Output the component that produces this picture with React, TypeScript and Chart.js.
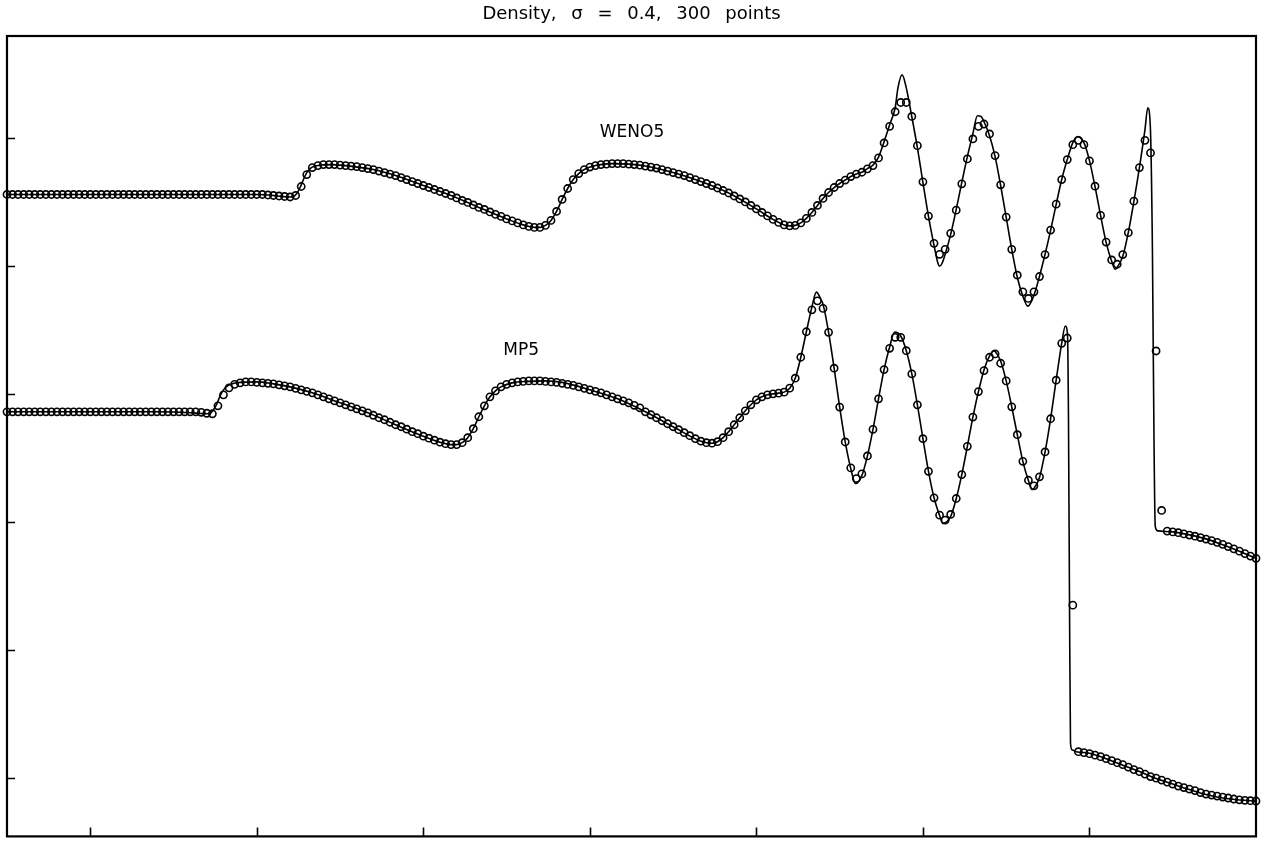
import React, { useEffect, useRef } from "react";
import { Chart, registerables } from "chart.js";

Chart.register(...registerables);

// ---------- text ----------
const TITLE = "Density, \u03c3 = 0.4, 300 points";
const SERIES_NAMES = ["WENO5", "MP5"];

// ---------- axes ----------
const X_RANGE = [-4.5, 3.0];
const Y_RANGE = [-0.01, 8.02];
const X_TICKS = [-4, -3, -2, -1, 0, 1, 2];
const Y_TICKS = [0.575, 1.86, 3.145, 4.43, 5.715, 7.0];

// grid of the computed points (300 points on [-5,5], shown part starts at -4.5)
const GRID_X0 = -4.5;
const GRID_DX = 1 / 30;

// ---------- WENO5 computed points ----------
const wenoRho = [
  6.43, 6.43, 6.43, 6.43, 6.43, 6.43, 6.43, 6.43, 6.43, 6.43,
  6.43, 6.43, 6.43, 6.43, 6.43, 6.43, 6.43, 6.43, 6.43, 6.43,
  6.43, 6.43, 6.43, 6.43, 6.43, 6.43, 6.43, 6.43, 6.43, 6.43,
  6.43, 6.43, 6.43, 6.43, 6.43, 6.43, 6.43, 6.43, 6.43, 6.43,
  6.43, 6.43, 6.43, 6.43, 6.43, 6.43, 6.43, 6.425, 6.42, 6.415,
  6.41, 6.405, 6.42, 6.51, 6.63, 6.70, 6.72, 6.73, 6.73, 6.73,
  6.725, 6.72, 6.715, 6.71, 6.70, 6.69, 6.68, 6.665, 6.65, 6.635,
  6.62, 6.60, 6.58, 6.56, 6.54, 6.52, 6.50, 6.48, 6.46, 6.44,
  6.42, 6.395, 6.37, 6.35, 6.325, 6.30, 6.28, 6.255, 6.23, 6.21,
  6.185, 6.165, 6.145, 6.125, 6.11, 6.10, 6.10, 6.12, 6.17, 6.26,
  6.38, 6.49, 6.58, 6.64, 6.68, 6.705, 6.72, 6.73, 6.735, 6.74,
  6.74, 6.74, 6.735, 6.73, 6.725, 6.715, 6.705, 6.695, 6.68, 6.665,
  6.65, 6.635, 6.62, 6.60, 6.58, 6.56, 6.54, 6.52, 6.495, 6.47,
  6.445, 6.415, 6.385, 6.355, 6.32, 6.285, 6.25, 6.215, 6.18, 6.15,
  6.125, 6.115, 6.12, 6.145, 6.19, 6.25, 6.32, 6.39, 6.45, 6.50,
  6.54, 6.575, 6.61, 6.635, 6.653, 6.687, 6.72, 6.797, 6.947, 7.113,
  7.26, 7.353, 7.353, 7.213, 6.92, 6.557, 6.213, 5.94, 5.83, 5.88,
  6.04, 6.273, 6.537, 6.787, 6.987, 7.113, 7.137, 7.037, 6.82, 6.527,
  6.203, 5.88, 5.62, 5.453, 5.387, 5.453, 5.607, 5.827, 6.073, 6.333,
  6.58, 6.78, 6.93, 6.973, 6.93, 6.767, 6.513, 6.22, 5.953, 5.773,
  5.73, 5.827, 6.047, 6.363, 6.70, 6.973, 6.847, 4.86, 3.26, 3.053,
  3.045, 3.037, 3.025, 3.013, 3.002, 2.988, 2.973, 2.957, 2.94, 2.92,
  2.898, 2.875, 2.852, 2.827, 2.802, 2.78,
];

// ---------- MP5 computed points ----------
const mp5Rho = [
  4.25, 4.25, 4.25, 4.25, 4.25, 4.25, 4.25, 4.25, 4.25, 4.25,
  4.25, 4.25, 4.25, 4.25, 4.25, 4.25, 4.25, 4.25, 4.25, 4.25,
  4.25, 4.25, 4.25, 4.25, 4.25, 4.25, 4.25, 4.25, 4.25, 4.25,
  4.25, 4.25, 4.25, 4.25, 4.25, 4.245, 4.235, 4.23, 4.31, 4.42,
  4.49, 4.525, 4.54, 4.55, 4.55, 4.545, 4.54, 4.535, 4.53, 4.52,
  4.51, 4.50, 4.485, 4.47, 4.455, 4.44, 4.42, 4.40, 4.38, 4.36,
  4.34, 4.32, 4.30, 4.28, 4.26, 4.24, 4.215, 4.19, 4.17, 4.145,
  4.12, 4.10, 4.075, 4.05, 4.03, 4.005, 3.985, 3.965, 3.945, 3.93,
  3.92, 3.92, 3.94, 3.99, 4.08, 4.20, 4.31, 4.40, 4.46, 4.50,
  4.525, 4.54, 4.55, 4.555, 4.56, 4.56, 4.56, 4.555, 4.55, 4.545,
  4.535, 4.525, 4.515, 4.50, 4.485, 4.47, 4.455, 4.44, 4.42, 4.40,
  4.38, 4.36, 4.34, 4.315, 4.29, 4.25, 4.22, 4.19, 4.16, 4.13,
  4.10, 4.07, 4.04, 4.01, 3.98, 3.955, 3.94, 3.935, 3.95, 3.99,
  4.05, 4.12, 4.19, 4.26, 4.32, 4.37, 4.40, 4.42, 4.43, 4.437,
  4.447, 4.487, 4.587, 4.797, 5.053, 5.273, 5.363, 5.287, 5.047, 4.687,
  4.297, 3.947, 3.687, 3.58, 3.627, 3.807, 4.073, 4.38, 4.673, 4.887,
  4.997, 4.997, 4.863, 4.63, 4.32, 3.98, 3.653, 3.387, 3.213, 3.163,
  3.22, 3.38, 3.62, 3.903, 4.197, 4.453, 4.663, 4.797, 4.83, 4.737,
  4.56, 4.30, 4.02, 3.753, 3.563, 3.507, 3.597, 3.847, 4.18, 4.567,
  4.937, 4.99, 2.31, 0.84, 0.83, 0.82, 0.805, 0.79, 0.77, 0.75,
  0.73, 0.71, 0.685, 0.66, 0.64, 0.615, 0.59, 0.575, 0.555, 0.535,
  0.515, 0.495, 0.48, 0.465, 0.45, 0.43, 0.415, 0.405, 0.395, 0.385,
  0.375, 0.365, 0.357, 0.352, 0.348, 0.345,
];

// ---------- reference solution lines ----------
const wenoLineX = [
  -4.5, -3.0, -2.9, -2.85, -2.8, -2.78, -2.76, -2.74, -2.72, -2.7,
  -2.68, -2.65, -2.6, -2.55, -2.5, -2.3, -2.1667, -2.0, -1.8333, -1.6667,
  -1.5, -1.4, -1.3333, -1.3, -1.2667, -1.2333, -1.2, -1.1667, -1.1333, -1.1,
  -1.0667, -1.0333, -0.9667, -0.8667, -0.7667, -0.6667, -0.5, -0.3333, -0.1667, 0.0,
  0.1, 0.1667, 0.2, 0.2333, 0.2667, 0.3, 0.3333, 0.3667, 0.4, 0.4333,
  0.4667, 0.5, 0.5333, 0.5667, 0.6, 0.6333, 0.6667, 0.7, 0.7333, 0.7667,
  0.8, 0.8333, 0.85, 0.875, 0.9, 0.9333, 0.9667, 1.0, 1.0333, 1.0667,
  1.09, 1.1, 1.115, 1.1333, 1.1667, 1.2, 1.2333, 1.2667, 1.3, 1.327,
  1.35, 1.3667, 1.4, 1.4333, 1.4667, 1.5, 1.5333, 1.5667, 1.6, 1.63,
  1.6667, 1.7, 1.7333, 1.7667, 1.8, 1.8333, 1.8667, 1.9, 1.93, 1.9667,
  2.0, 2.0333, 2.0667, 2.1, 2.1333, 2.155, 2.1667, 2.2, 2.2333, 2.2667,
  2.3, 2.3333, 2.35, 2.365, 2.378, 2.388, 2.395, 2.41, 2.5, 2.6,
  2.7, 2.8, 2.9, 3.0,
];
const wenoLineRho = [
  6.43, 6.43, 6.42, 6.41, 6.405, 6.41, 6.44, 6.50, 6.58, 6.65,
  6.69, 6.715, 6.727, 6.73, 6.725, 6.68, 6.62, 6.52, 6.42, 6.30,
  6.185, 6.125, 6.10, 6.10, 6.12, 6.17, 6.26, 6.38, 6.49, 6.58,
  6.64, 6.68, 6.72, 6.74, 6.735, 6.715, 6.65, 6.56, 6.445, 6.285,
  6.18, 6.125, 6.115, 6.12, 6.145, 6.19, 6.25, 6.32, 6.39, 6.45,
  6.50, 6.54, 6.575, 6.61, 6.635, 6.653, 6.69, 6.725, 6.805, 6.96,
  7.13, 7.30, 7.50, 7.63, 7.50, 7.21, 6.90, 6.55, 6.21, 5.92,
  5.74, 5.71, 5.74, 5.83, 6.03, 6.28, 6.55, 6.81, 7.04, 7.22,
  7.21, 7.16, 7.02, 6.81, 6.52, 6.20, 5.88, 5.60, 5.41, 5.31,
  5.42, 5.61, 5.83, 6.07, 6.33, 6.58, 6.78, 6.95, 7.01, 6.95,
  6.77, 6.51, 6.22, 5.95, 5.76, 5.68, 5.70, 5.81, 6.05, 6.36,
  6.70, 7.08, 7.30, 7.13, 5.88, 3.88, 3.10, 3.055, 3.045, 3.015,
  2.975, 2.915, 2.85, 2.78,
];

const mp5LineX = [
  -4.5, -3.6, -3.4, -3.35, -3.3, -3.28, -3.26, -3.24, -3.22, -3.2,
  -3.18, -3.15, -3.1, -3.0, -2.9, -2.8, -2.6667, -2.5, -2.3333, -2.1667,
  -2.0, -1.9, -1.8333, -1.8, -1.7667, -1.7333, -1.7, -1.6667, -1.6333, -1.6,
  -1.5667, -1.5333, -1.4667, -1.3667, -1.2667, -1.1667, -1.0, -0.8333, -0.6667, -0.5,
  -0.3333, -0.2667, -0.2333, -0.2, -0.1667, -0.1333, -0.1, -0.0667, -0.0333, 0.0,
  0.0333, 0.0667, 0.1, 0.1333, 0.1667, 0.2, 0.2333, 0.2667, 0.3, 0.3333,
  0.36, 0.3867, 0.4, 0.4333, 0.4667, 0.5, 0.5333, 0.5667, 0.595, 0.6333,
  0.6667, 0.7, 0.7333, 0.7667, 0.8, 0.83, 0.8667, 0.9, 0.9333, 0.9667,
  1.0, 1.0333, 1.0667, 1.1, 1.12, 1.1667, 1.2, 1.2333, 1.2667, 1.3,
  1.3333, 1.3667, 1.4, 1.425, 1.4333, 1.4667, 1.5, 1.5333, 1.5667, 1.6,
  1.6333, 1.655, 1.6667, 1.7, 1.7333, 1.7667, 1.8, 1.8333, 1.855, 1.868,
  1.874, 1.88, 1.886, 1.895, 1.92, 2.0, 2.1, 2.2, 2.3, 2.4,
  2.5, 2.6, 2.7, 2.8, 2.9, 3.0,
];
const mp5LineRho = [
  4.25, 4.25, 4.24, 4.235, 4.23, 4.235, 4.27, 4.33, 4.41, 4.47,
  4.505, 4.53, 4.545, 4.55, 4.53, 4.50, 4.44, 4.34, 4.24, 4.12,
  4.005, 3.945, 3.92, 3.92, 3.94, 3.99, 4.08, 4.20, 4.31, 4.40,
  4.46, 4.50, 4.54, 4.555, 4.56, 4.545, 4.47, 4.38, 4.25, 4.10,
  3.955, 3.935, 3.95, 3.99, 4.05, 4.12, 4.19, 4.26, 4.32, 4.37,
  4.40, 4.42, 4.43, 4.437, 4.447, 4.487, 4.587, 4.797, 5.053, 5.30,
  5.45, 5.38, 5.33, 5.05, 4.687, 4.297, 3.947, 3.68, 3.53, 3.61,
  3.807, 4.073, 4.38, 4.673, 4.90, 5.05, 5.01, 4.863, 4.63, 4.32,
  3.98, 3.653, 3.387, 3.21, 3.13, 3.20, 3.38, 3.62, 3.903, 4.197,
  4.453, 4.67, 4.81, 4.86, 4.855, 4.76, 4.56, 4.30, 4.02, 3.753,
  3.56, 3.47, 3.48, 3.59, 3.847, 4.18, 4.567, 4.937, 5.11, 5.03,
  4.18, 2.38, 0.93, 0.86, 0.84, 0.825, 0.77, 0.705, 0.64, 0.57,
  0.515, 0.46, 0.41, 0.375, 0.355, 0.345,
];

// label anchors (data units)
const LABEL_X = [-0.747, -1.413];
const LABEL_Y = [7.05, 4.86];

const gridPoints = (vals: number[]) =>
  vals.map((v, k) => ({ x: GRID_X0 + k * GRID_DX, y: v }));
const pairPoints = (xs: number[], ys: number[]) =>
  xs.map((x, i) => ({ x, y: ys[i] }));

const framePlugin = {
  id: "frameAndText",
  afterDatasetsDraw(chart: any) {
    const { ctx, chartArea: a, scales } = chart;
    ctx.save();
    ctx.strokeStyle = "#000";
    ctx.lineWidth = 2.2;
    ctx.strokeRect(a.left, a.top, a.right - a.left, a.bottom - a.top);
    ctx.lineWidth = 1.6;
    ctx.beginPath();
    X_TICKS.forEach((v) => {
      const x = Math.round(scales.x.getPixelForValue(v)) + 0.5;
      ctx.moveTo(x, a.bottom);
      ctx.lineTo(x, a.bottom - 9);
    });
    Y_TICKS.forEach((v) => {
      const y = Math.round(scales.y.getPixelForValue(v)) + 0.5;
      ctx.moveTo(a.left, y);
      ctx.lineTo(a.left + 8, y);
    });
    ctx.stroke();

    ctx.fillStyle = "#000";
    ctx.textAlign = "center";
    ctx.textBaseline = "middle";
    ctx.font = "18px 'DejaVu Sans'";
    try {
      (ctx as any).wordSpacing = "9px";
    } catch (e) {}
    ctx.fillText(TITLE, (a.left + a.right) / 2, 14);
    try {
      (ctx as any).wordSpacing = "0px";
    } catch (e) {}
    ctx.font = "17px 'DejaVu Sans'";
    SERIES_NAMES.forEach((name, i) => {
      ctx.fillText(
        name,
        scales.x.getPixelForValue(LABEL_X[i]),
        scales.y.getPixelForValue(LABEL_Y[i])
      );
    });
    ctx.restore();
  },
};

export default function App() {
  const ref = useRef<HTMLCanvasElement | null>(null);
  useEffect(() => {
    if (!ref.current) return;
    const lineStyle = {
      showLine: true,
      pointRadius: 0,
      borderColor: "#000",
      borderWidth: 1.6,
      cubicInterpolationMode: "monotone" as const,
      fill: false,
    };
    const dotStyle = {
      showLine: false,
      pointRadius: 3.6,
      pointBorderWidth: 1.6,
      pointBorderColor: "#000",
      pointBackgroundColor: "rgba(0,0,0,0)",
      borderColor: "#000",
      clip: false as const,
    };
    const chart = new Chart(ref.current, {
      type: "scatter",
      data: {
        datasets: [
          { label: "WENO5 exact", data: pairPoints(wenoLineX, wenoLineRho), ...lineStyle },
          { label: "MP5 exact", data: pairPoints(mp5LineX, mp5LineRho), ...lineStyle },
          { label: "WENO5", data: gridPoints(wenoRho), ...dotStyle },
          { label: "MP5", data: gridPoints(mp5Rho), ...dotStyle },
        ],
      },
      options: {
        responsive: false,
        animation: false,
        devicePixelRatio: 1,
        layout: { padding: { left: 7, top: 36, right: 10, bottom: 3 } },
        plugins: {
          legend: { display: false },
          tooltip: { enabled: false },
          title: { display: false },
        },
        scales: {
          x: { type: "linear", min: X_RANGE[0], max: X_RANGE[1], display: false },
          y: { type: "linear", min: Y_RANGE[0], max: Y_RANGE[1], display: false },
        },
      },
      plugins: [framePlugin],
    });
    return () => chart.destroy();
  }, []);
  return (
    <div style={{ position: "fixed", left: 0, top: 0, width: 1266, height: 842, background: "#fff" }}>
      <canvas ref={ref} width={1266} height={842} style={{ display: "block" }} />
    </div>
  );
}
